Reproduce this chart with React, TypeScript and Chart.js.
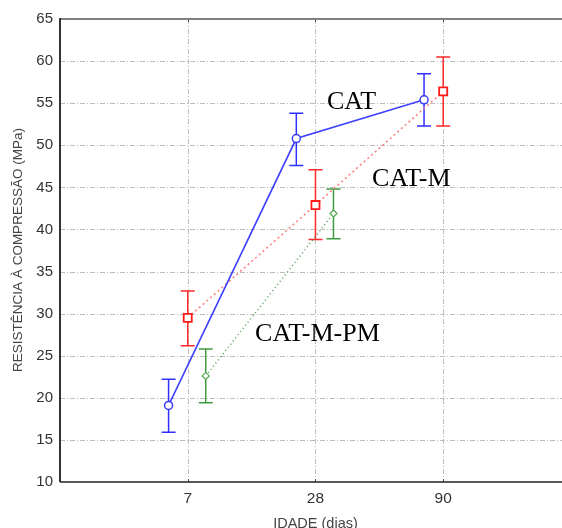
import React, { useEffect, useRef } from "react";
import { Chart, registerables } from "chart.js";

Chart.register(...registerables);

const categories = ["7", "28", "90"];
const yTicks = [10, 15, 20, 25, 30, 35, 40, 45, 50, 55, 60, 65];

const catMean = [19.1, 50.8, 55.4];
const catUpper = [22.2, 53.8, 58.5];
const catLower = [15.9, 47.6, 52.3];

const catMMean = [29.5, 42.9, 56.4];
const catMUpper = [32.7, 47.1, 60.5];
const catMLower = [26.2, 38.8, 52.3];

const catMPMMean = [22.6, 41.9];
const catMPMUpper = [25.8, 44.8];
const catMPMLower = [19.4, 38.9];

const seriesLabels = ["CAT", "CAT-M", "CAT-M-PM"];

const X_MAX = 3.93;
const OFFSETS = [-0.15, 0, 0.141];

const toPoints = (vals: number[], off: number) =>
  vals.map((v, i) => ({ x: i + 1 + off, y: v }));

const gridPlugin = {
  id: "customGrid",
  beforeDatasetsDraw(chart: any) {
    const { ctx, chartArea, scales } = chart;
    const { left, right, top, bottom } = chartArea;
    ctx.save();
    ctx.strokeStyle = "#bdbdbd";
    ctx.lineWidth = 1;
    ctx.setLineDash([5, 2, 1, 2]);
    yTicks.forEach((t) => {
      if (t === yTicks[0] || t === yTicks[yTicks.length - 1]) return;
      const y = Math.round(scales.y.getPixelForValue(t)) + 0.5;
      ctx.beginPath();
      ctx.moveTo(left, y);
      ctx.lineTo(right, y);
      ctx.stroke();
    });
    categories.forEach((_, i) => {
      const x = Math.round(scales.x.getPixelForValue(i + 1)) + 0.5;
      ctx.beginPath();
      ctx.moveTo(x, top);
      ctx.lineTo(x, bottom);
      ctx.stroke();
    });
    ctx.setLineDash([]);
    ctx.strokeStyle = "#444";
    categories.forEach((_, i) => {
      const x = Math.round(scales.x.getPixelForValue(i + 1)) + 0.5;
      ctx.beginPath();
      ctx.moveTo(x, bottom);
      ctx.lineTo(x, bottom - 3);
      ctx.moveTo(x, top);
      ctx.lineTo(x, top + 3);
      ctx.stroke();
    });
    ctx.strokeStyle = "#808080";
    ctx.lineWidth = 2;
    ctx.beginPath();
    ctx.moveTo(left, top);
    ctx.lineTo(right, top);
    ctx.stroke();
    ctx.strokeStyle = "#222";
    ctx.lineWidth = 1.5;
    ctx.beginPath();
    ctx.moveTo(left, bottom);
    ctx.lineTo(right, bottom);
    ctx.stroke();
    ctx.strokeStyle = "#333";
    ctx.lineWidth = 2;
    ctx.beginPath();
    ctx.moveTo(left, top - 1);
    ctx.lineTo(left, bottom);
    ctx.stroke();

    chart.data.datasets.forEach((ds: any, di: number) => {
      const meta = chart.getDatasetMeta(di);
      ctx.strokeStyle = ds.errColor;
      ctx.lineWidth = 1.5;
      meta.data.forEach((pt: any, i: number) => {
        const x = pt.x;
        const yu = scales.y.getPixelForValue(ds.errUpper[i]);
        const yl = scales.y.getPixelForValue(ds.errLower[i]);
        ctx.beginPath();
        ctx.moveTo(x, yu);
        ctx.lineTo(x, yl);
        ctx.moveTo(x - 7, yu);
        ctx.lineTo(x + 7, yu);
        ctx.moveTo(x - 7, yl);
        ctx.lineTo(x + 7, yl);
        ctx.stroke();
      });
    });
    ctx.restore();
  },
  afterDatasetsDraw(chart: any) {
    const { ctx, scales, chartArea } = chart;
    ctx.save();
    ctx.fillStyle = "#000";
    ctx.font = '26px "Liberation Serif", "Times New Roman", serif';
    ctx.textAlign = "left";
    ctx.textBaseline = "alphabetic";
    const annPos = [
      [2.09, 54.3],
      [2.443, 45.15],
      [1.527, 26.75],
    ];
    seriesLabels.forEach((lbl, i) => {
      ctx.fillText(
        lbl,
        scales.x.getPixelForValue(annPos[i][0]),
        scales.y.getPixelForValue(annPos[i][1])
      );
    });
    // x tick labels
    ctx.fillStyle = "#333";
    ctx.font = '15.5px "Liberation Sans", Arial, sans-serif';
    ctx.textAlign = "center";
    ctx.textBaseline = "alphabetic";
    categories.forEach((c, i) => {
      ctx.fillText(c, scales.x.getPixelForValue(i + 1), chartArea.bottom + 20.5);
    });
    // axis titles
    ctx.fillStyle = "#444";
    ctx.font = '13.5px "Liberation Sans", Arial, sans-serif';
    ctx.textBaseline = "middle";
    ctx.save();
    ctx.translate(18.5, 250);
    ctx.rotate(-Math.PI / 2);
    ctx.fillText("RESISTÊNCIA À COMPRESSÃO (MPa)", 0, 0);
    ctx.restore();
    ctx.font = '14.5px "Liberation Sans", Arial, sans-serif';
    ctx.textBaseline = "alphabetic";
    ctx.fillText("IDADE (dias)", scales.x.getPixelForValue(2), 528);
    ctx.restore();
  },
};

export default function App() {
  const ref = useRef<HTMLCanvasElement>(null);
  useEffect(() => {
    if (!ref.current) return;
    const chart = new Chart(ref.current, {
      type: "line",
      data: {
        datasets: [
          {
            label: seriesLabels[0],
            data: toPoints(catMean, OFFSETS[0]),
            borderColor: "#4040ff",
            borderWidth: 1.6,
            pointStyle: "circle",
            pointRadius: 4,
            pointBorderWidth: 1.5,
            pointBackgroundColor: "#ffffff",
            pointBorderColor: "#3a3aff",
            errUpper: catUpper,
            errLower: catLower,
            errColor: "#2f2fff",
          } as any,
          {
            label: seriesLabels[1],
            data: toPoints(catMMean, OFFSETS[1]),
            borderColor: "#ff7a7a",
            borderWidth: 1.5,
            borderDash: [2, 3],
            pointStyle: "rect",
            pointRadius: 5.7,
            pointBorderWidth: 1.8,
            pointBackgroundColor: "#ffffff",
            pointBorderColor: "#ff1a1a",
            errUpper: catMUpper,
            errLower: catMLower,
            errColor: "#ff2a2a",
          } as any,
          {
            label: seriesLabels[2],
            data: toPoints(catMPMMean, OFFSETS[2]),
            borderColor: "#4fa04f",
            borderWidth: 1.5,
            borderDash: [1, 3],
            pointStyle: "rectRot",
            pointRadius: 3.5,
            pointBorderWidth: 1.2,
            pointBackgroundColor: "#ffffff",
            pointBorderColor: "#55a855",
            errUpper: catMPMUpper,
            errLower: catMPMLower,
            errColor: "#3f9a3f",
          } as any,
        ],
      },
      options: {
        animation: false,
        responsive: false,
        maintainAspectRatio: false,
        layout: { autoPadding: false, padding: { top: 19, left: 0, right: 0, bottom: 0 } },
        plugins: {
          legend: { display: false },
          tooltip: { enabled: false },
        },
        elements: { line: { tension: 0 } },
        scales: {
          x: {
            type: "linear",
            min: 0,
            max: X_MAX,
            grid: { display: false },
            border: { display: false },
            afterBuildTicks: (axis: any) => {
              axis.ticks = categories.map((_, i) => ({ value: i + 1 }));
            },
            afterFit: (axis: any) => {
              axis.height = 46;
            },
            ticks: { display: false },
          },
          y: {
            type: "linear",
            min: 10,
            max: 65,
            grid: { display: false, drawTicks: false },
            border: { display: false },
            afterBuildTicks: (axis: any) => {
              axis.ticks = yTicks.map((v) => ({ value: v }));
            },
            afterFit: (axis: any) => {
              axis.width = 60;
            },
            ticks: {
              padding: 7,
              color: "#333",
              font: { family: '"Liberation Sans", Arial, sans-serif', size: 15 },
            },
          },
        },
      },
      plugins: [gridPlugin],
    });
    return () => chart.destroy();
  }, []);
  return (
    <div style={{ position: "absolute", left: 0, top: 0, width: 562, height: 528, background: "#fff" }}>
      <canvas ref={ref} width={562} height={528} style={{ display: "block" }} />
    </div>
  );
}
